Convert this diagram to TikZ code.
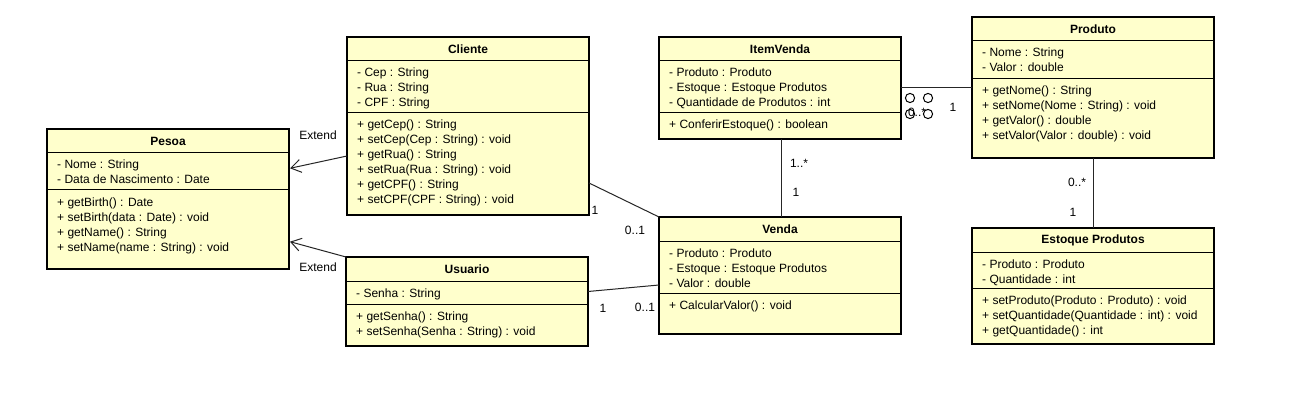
\documentclass[tikz,border=0pt]{standalone}
\usepackage{fontspec}
\setmainfont{Liberation Sans}
\usetikzlibrary{calc,arrows.meta}
\definecolor{clsfill}{RGB}{255,255,204}
\tikzset{
  cls/.style={draw=black, line width=2pt, fill=clsfill, rectangle, inner sep=0pt, outer sep=0pt, anchor=north west, minimum width=242pt},
  sep/.style={line width=1pt, draw=black},
  ttl/.style={font=\fontsize{12}{15}\selectfont\bfseries, inner sep=0pt},
  txt/.style={font=\fontsize{12}{15}\selectfont, inner sep=0pt, anchor=base west},
  lbl/.style={font=\fontsize{12}{15}\selectfont, inner sep=0pt},
  assoc/.style={line width=1pt, draw=black!85},
  ext/.style={assoc, -{Straight Barb[length=10pt,width=13pt,line width=1pt]}},
  ring/.style={circle, draw=black, line width=1pt, minimum size=9.2pt, inner sep=0pt},
}
% #1 name, #2 x, #3 y, #4 attr height, #5 method height, #6 title, #7 attrs, #8 methods
\newcommand{\umlclass}[8]{%
  \node[cls, minimum height={(24+#4+#5)*1pt}] (#1) at (#2,#3) {};
  \draw[sep] ($(#1.north west)+(0,24)$) -- ($(#1.north east)+(0,24)$);
  \draw[sep] ($(#1.north west)+(0,24+#4)$) -- ($(#1.north east)+(0,24+#4)$);
  \node[ttl] (#1-t) at ($(#1.north)+(0,12)$) {#6};
  \foreach \t [count=\i] in {#7} \node[txt] (#1-a\i) at ($(#1.north west)+(10,24+16+15*\i-15)$) {\t};
  \foreach \t [count=\i] in {#8} \node[txt] (#1-m\i) at ($(#1.north west)+(10,24+#4+16+15*\i-15)$) {\t};
}
\begin{document}
\begin{tikzpicture}[x=1pt,y=-1pt]
\useasboundingbox (0,0) rectangle (1299,409);
\fill[white] (0,0) rectangle (1299,409);

\umlclass{pesoa}{47}{129}{37}{79}{Pesoa}
  {{- Nome : String},{- Data de Nascimento : Date}}
  {{+ getBirth() : Date},{+ setBirth(data : Date) : void},{+ getName() : String},{+ setName(name : String) : void}}

\umlclass{cliente}{347}{37}{52}{102}{Cliente}
  {{- Cep : String},{- Rua : String},{- CPF : String}}
  {{+ getCep() : String},{+ setCep(Cep : String) : void},{+ getRua() : String},{+ setRua(Rua : String) : void},{+ getCPF() : String},{+ setCPF(CPF : String) : void}}

\umlclass{usuario}{346}{257}{23}{42}{Usuario}
  {{- Senha : String}}
  {{+ getSenha() : String},{+ setSenha(Senha : String) : void}}

\umlclass{itemvenda}{659}{37}{52}{26}{ItemVenda}
  {{- Produto : Produto},{- Estoque : Estoque Produtos},{- Quantidade de Produtos : int}}
  {{+ ConferirEstoque() : boolean}}

\umlclass{venda}{659}{217}{52}{41}{Venda}
  {{- Produto : Produto},{- Estoque : Estoque Produtos},{- Valor : double}}
  {{+ CalcularValor() : void}}

\umlclass{produto}{972}{17}{38}{79}{Produto}
  {{- Nome : String},{- Valor : double}}
  {{+ getNome() : String},{+ setNome(Nome : String) : void},{+ getValor() : double},{+ setValor(Valor : double) : void}}

\umlclass{estoque}{972}{228}{36}{56}{Estoque Produtos}
  {{- Produto : Produto},{- Quantidade : int}}
  {{+ setProduto(Produto : Produto) : void},{+ setQuantidade(Quantidade : int) : void},{+ getQuantidade() : int}}

% generalisations
\draw[ext] ([yshift=-30pt]cliente.west) -- ([yshift=30.7pt,xshift=1pt]pesoa.east);
\draw[ext] (usuario.north west) -- ([yshift=-42.7pt,xshift=1pt]pesoa.east);
\node[lbl] (ext1) at (318,135) {Extend};
\node[lbl] (ext2) at (318,267) {Extend};

% associations
\draw[assoc] ([yshift=-57pt]cliente.east) -- (venda.north west);
\node[lbl] (l1) at (595,210) {1};
\node[lbl] (l2) at (635,230) {0..1};

\draw[assoc] ([yshift=10pt]usuario.east) -- ([yshift=-9.5pt]venda.west);
\node[lbl] (l3) at (603,308) {1};
\node[lbl] (l4) at (645,307) {0..1};

\draw[assoc] ([xshift=1.5pt]itemvenda.south) -- ([xshift=1.5pt]venda.north);
\node[lbl] (l5) at (799,163) {1..*};
\node[lbl] (l6) at (796,192) {1};

\draw[assoc] (itemvenda.east) -- (itemvenda.east -| produto.west);
\node[lbl] (l7) at (917,112) {0..*};
\node[lbl] (l8) at (953,107) {1};
\node[ring] (r1) at (910,98) {};
\node[ring] (r2) at (928,98) {};
\node[ring] (r3) at (910,114) {};
\node[ring] (r4) at (928,114) {};

\draw[assoc] (produto.south) -- (estoque.north);
\node[lbl] (l9) at (1077,182) {0..*};
\node[lbl] (l10) at (1073,212) {1};
\end{tikzpicture}
\end{document}
